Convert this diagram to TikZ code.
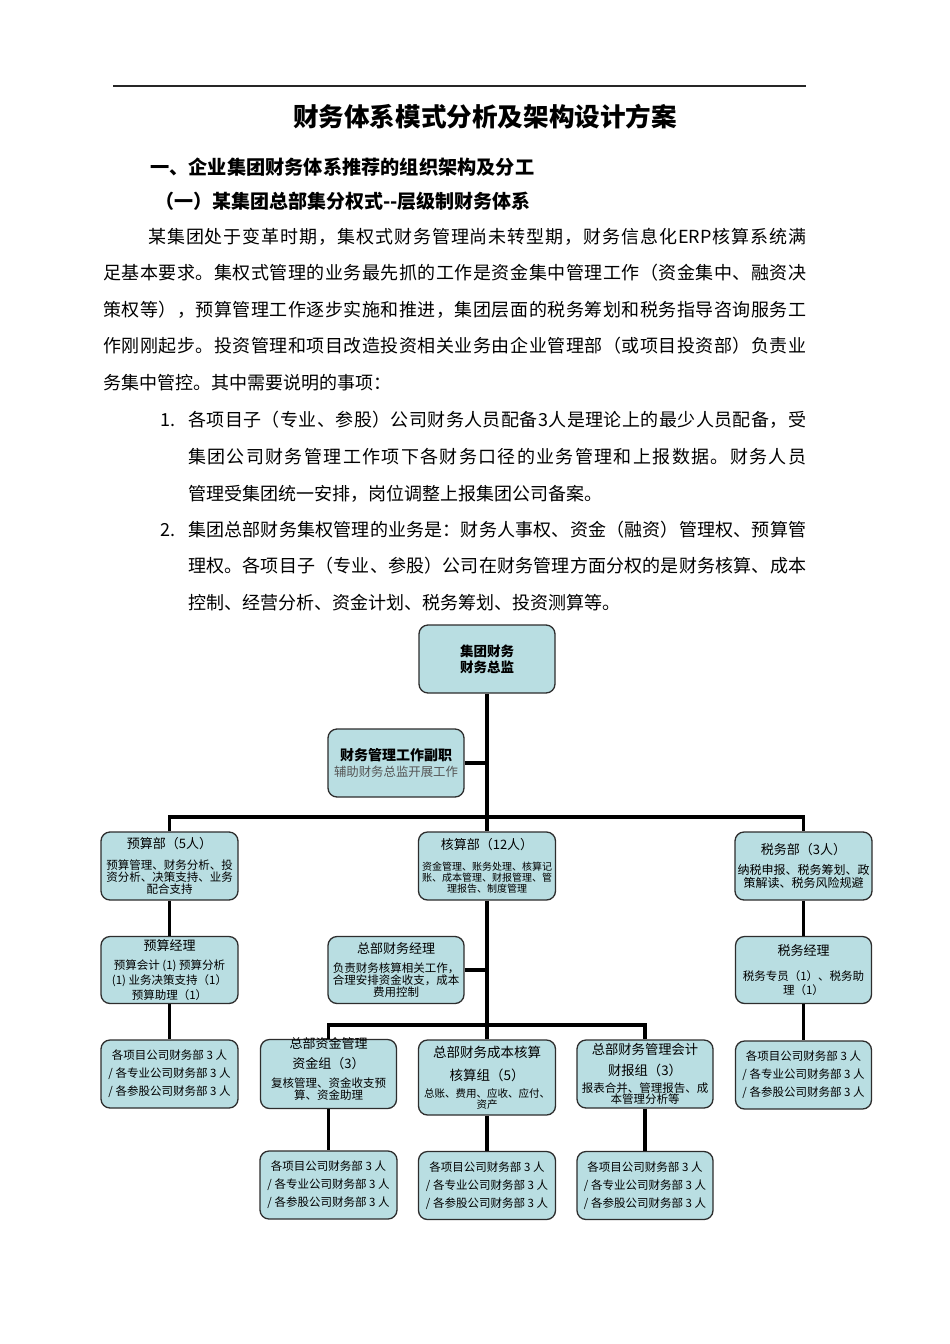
\documentclass[tikz,border=0pt]{standalone}
\usepackage{fontspec}
\setmainfont{Noto Sans CJK SC}
\definecolor{boxfill}{RGB}{185,222,226}
\definecolor{boxline}{RGB}{45,45,45}
\definecolor{subgray}{RGB}{85,85,85}
\newcommand\fsz[1]{\fontsize{#1}{#1}\selectfont}
\newcommand\fsb[2]{\fontsize{#1}{#2}\selectfont}
\ExplSyntaxOn
\cs_new:Npn \rsk_spread:n #1 { \tl_map_inline:nn {#1} { ##1 \hfil } \unskip }
\NewDocumentCommand\spreadline{mm}{\hbox~to~#1{\rsk_spread:n{#2}}}
\ExplSyntaxOff
\newcommand\jline[4]{\node[anchor=west,inner sep=0pt,font=\fsz{18}] (#1) at (#2) {\spreadline{#3}{#4}};}
\tikzset{
  box/.style={draw=boxline, line width=1.3pt, fill=boxfill, rounded corners=9pt,
    minimum width=136pt, minimum height=68pt, inner sep=1pt, align=center},
  conn/.style={line width=3.2pt, black},
  plain/.style={anchor=west, inner sep=0pt, font=\fsz{18}},
}
\begin{document}
\begin{tikzpicture}[x=1pt,y=-1pt]
\useasboundingbox (0,0) rectangle (950,1344);
\fill[white] (0,0) rectangle (950,1344);
% top rule
\draw[line width=1.1pt, black!85] (113,86) -- (806,86);
% headings
\node[font=\bfseries\fsz{25.6}, inner sep=0pt] (title) at (485,117) {财务体系模式分析及架构设计方案};
\node[anchor=west, inner sep=0pt, font=\bfseries\fsz{19.2}] (h1) at (150,167) {一、企业集团财务体系推荐的组织架构及分工};
\node[anchor=west, inner sep=0pt, font=\bfseries\fsz{19}] (h2) at (155,201) {（一）某集团总部集分权式-{}-层级制财务体系};
% paragraph
\jline{p1}{148,237}{658pt}{某集团处于变革时期，集权式财务管理尚未转型期，财务信息化{ERP}核算系统满}
\jline{p2}{103,273}{703pt}{足基本要求。集权式管理的业务最先抓的工作是资金集中管理工作（资金集中、融资决}
\jline{p3}{103,310}{703pt}{策权等），预算管理工作逐步实施和推进，集团层面的税务筹划和税务指导咨询服务工}
\jline{p4}{103,346}{703pt}{作刚刚起步。投资管理和项目改造投资相关业务由企业管理部（或项目投资部）负责业}
\node[plain] (p5) at (103,383) {务集中管控。其中需要说明的事项：};
\node[plain] (n1) at (160,420) {1.};
\jline{i1a}{188,420}{618pt}{各项目子（专业、参股）公司财务人员配备3人是理论上的最少人员配备，受}
\jline{i1b}{188,457}{618pt}{集团公司财务管理工作项下各财务口径的业务管理和上报数据。财务人员}
\node[plain] (i1c) at (188,494) {管理受集团统一安排，岗位调整上报集团公司备案。};
\node[plain] (n2) at (160,530) {2.};
\jline{i2a}{188,530}{618pt}{集团总部财务集权管理的业务是：财务人事权、资金（融资）管理权、预算管}
\jline{i2b}{188,566}{618pt}{理权。各项目子（专业、参股）公司在财务管理方面分权的是财务核算、成本}
\node[plain] (i2c) at (188,603) {控制、经营分析、资金计划、税务筹划、投资测算等。};
% ---------- chart boxes ----------
\node[box, font=\bfseries\fsb{13.5}{16}] (cfo) at (487,659) {集团财务\\财务总监};
\node[box, font=\fsb{12.4}{12.4}] (fz) at (396,763) {{\bfseries\fsz{14}财务管理工作副职}\\[3.6pt]{\color{subgray}辅助财务总监开展工作}};
\node[box, minimum width=137pt, font=\fsb{11.5}{12}] (ys) at (169.5,866) {{\fsz{13}预算部（5人）}\\[9pt]预算管理、财务分析、投\\资分析、决策支持、业务\\配合支持};
\node[box, minimum width=137pt, font=\fsb{10}{11}] (hs) at (487,866) {{\fsz{13}核算部（12人）}\\[10pt]资金管理、账务处理、核算记\\账、成本管理、财报管理、管\\理报告、制度管理};
\node[box, minimum width=137pt, font=\fsb{12}{13}] (sw) at (803.5,866) {{\fsz{13}税务部（3人）}\\[6.6pt]纳税申报、税务筹划、政\\策解读、税务风险规避};
\node[box, minimum width=137pt, minimum height=67pt, font=\fsb{11.5}{15}] (ysjl) at (169.5,970) {{\fsz{13}预算经理}\\[3.4pt]预算会计 (1) 预算分析\\(1) 业务决策支持（1）\\预算助理（1）};
\node[box, minimum height=67pt, font=\fsb{11.5}{12}] (jl) at (396,970) {{\fsz{13}总部财务经理}\\[7.4pt]负责财务核算相关工作，\\合理安排资金收支，成本\\费用控制};
\node[box, minimum height=67pt, font=\fsb{11.5}{14}] (swjl) at (803.5,970) {{\fsz{13}税务经理}\\[11.4pt]税务专员（1）、税务助\\理（1）};
\node[box, minimum width=137pt, font=\fsb{11.5}{18}] (ysb) at (169.5,1074) {各项目公司财务部 3 人\\/ 各专业公司财务部 3 人\\/ 各参股公司财务部 3 人};
\node[box, minimum width=136pt, minimum height=69pt] (zj) at (328.5,1074) {};
\node[inner sep=0pt, align=center, font=\fsb{11.5}{11.5}] (zjt) at (328.5,1069) {{\fsz{13}总部资金管理}\\[6.5pt]{\fsz{13}资金组（3）}\\[7.5pt]复核管理、资金收支预\\算、资金助理};
\node[box, minimum width=137pt, minimum height=75pt, font=\fsb{10.5}{10.5}] (cb) at (487,1077.5) {{\fsz{13.5}总部财务成本核算}\\[9.5pt]{\fsz{13.5}核算组（5）}\\[6.5pt]总账、费用、应收、应付、\\资产};
\node[box, font=\fsb{11.5}{11.5}] (cbz) at (645,1074) {{\fsz{13.3}总部财务管理会计}\\[7.5pt]{\fsz{13.3}财报组（3）}\\[5.5pt]报表合并、管理报告、成\\本管理分析等};
\node[box, font=\fsb{11.5}{18}] (swb) at (803.5,1075) {各项目公司财务部 3 人\\/ 各专业公司财务部 3 人\\/ 各参股公司财务部 3 人};
\node[box, minimum width=137pt, font=\fsb{11.5}{18}] (zjb) at (328.5,1185) {各项目公司财务部 3 人\\/ 各专业公司财务部 3 人\\/ 各参股公司财务部 3 人};
\node[box, minimum width=137pt, font=\fsb{11.5}{18}] (cbb) at (487,1185.5) {各项目公司财务部 3 人\\/ 各专业公司财务部 3 人\\/ 各参股公司财务部 3 人};
\node[box, font=\fsb{11.5}{18}] (cbzb) at (645,1185.5) {各项目公司财务部 3 人\\/ 各专业公司财务部 3 人\\/ 各参股公司财务部 3 人};
% ---------- connectors ----------
\coordinate (b1) at (487,817);
\coordinate (b2) at (487,1025);
\draw[conn] (cfo.south) -- (hs.north);
\draw[conn] (fz.east) -- (fz.east -| cfo.south);
\draw[conn] (ys.north) |- (b1) -| (sw.north);
\draw[conn] (ys.south) -- (ysjl.north);
\draw[conn] (ysjl.south) -- (ysb.north);
\draw[conn] (sw.south) -- (swjl.north);
\draw[conn] (swjl.south) -- (swb.north);
\draw[conn] (hs.south) -- (cb.north);
\draw[conn] (jl.east) -- (jl.east -| hs.south);
\draw[conn] (zj.north) |- (b2) -| (cbz.north);
\draw[conn] (zj.south) -- (zjb.north);
\draw[conn] (cb.south) -- (cbb.north);
\draw[conn] (cbz.south) -- (cbzb.north);
\end{tikzpicture}
\end{document}
